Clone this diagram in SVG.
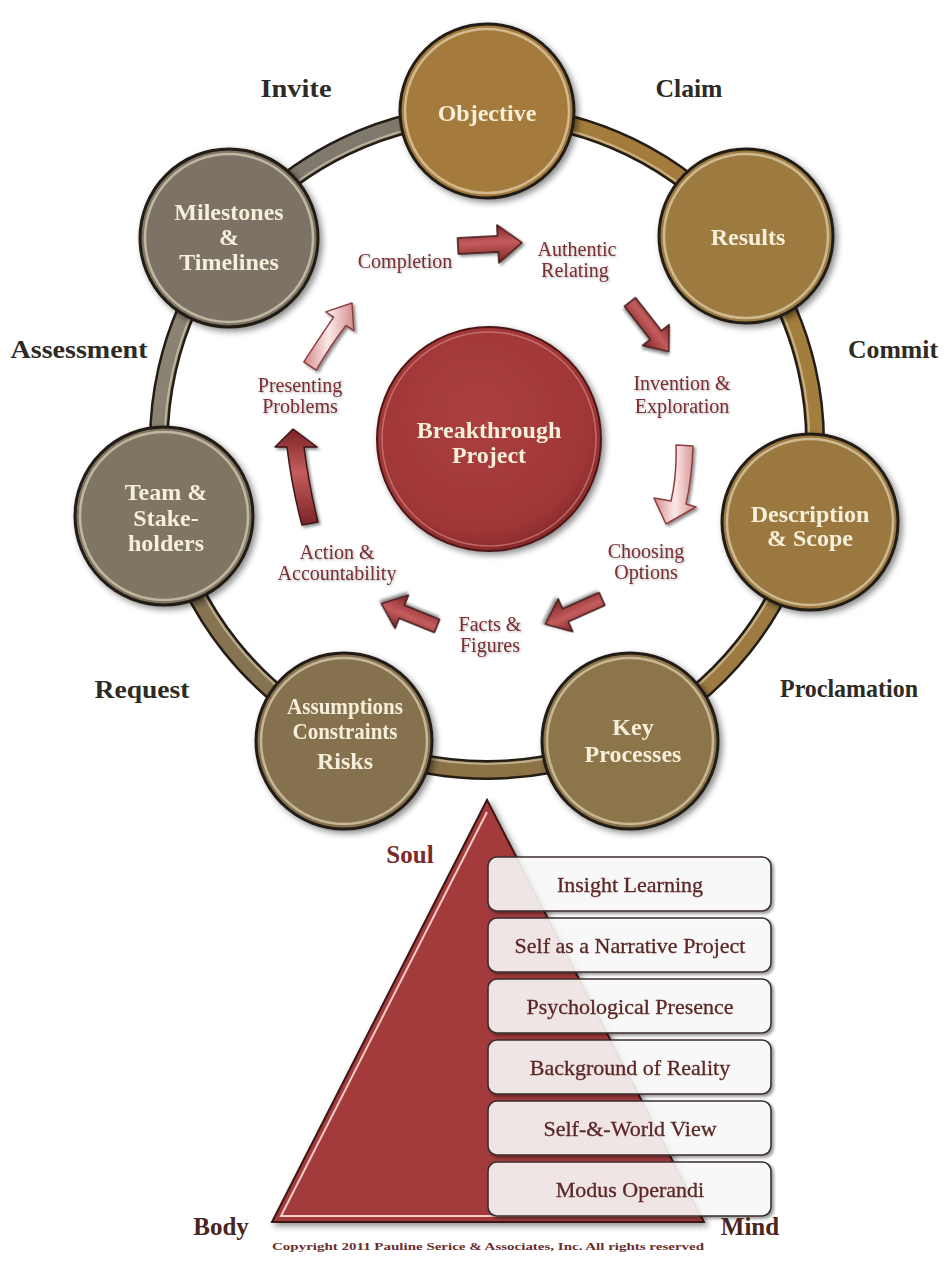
<svg xmlns="http://www.w3.org/2000/svg" width="948" height="1261" viewBox="0 0 948 1261">
  <defs>
    <style>
      .serif { font-family: "Liberation Serif", "DejaVu Serif", serif; }
      .outer { font-family: "Liberation Serif", "DejaVu Serif", serif; font-weight: bold; font-size: 26px; fill: #2e2b24; text-anchor: middle; }
      .node-text { font-family: "Liberation Serif", "DejaVu Serif", serif; font-weight: bold; font-size: 24px; fill: #f6efd9; text-anchor: middle; }
      .cycle-text { font-family: "Liberation Serif", "DejaVu Serif", serif; font-size: 20px; fill: #7b2d30; text-anchor: middle; filter: url(#textShadow); }
      .layer-text { font-family: "Liberation Serif", "DejaVu Serif", serif; font-size: 22px; fill: #5c2826; stroke: #5c2826; stroke-width: 0.3; text-anchor: middle; }
      .corner-text { font-family: "Liberation Serif", "DejaVu Serif", serif; font-weight: bold; font-size: 25px; text-anchor: middle; }
      .node-ring { fill: none; stroke: #efe4c6; stroke-width: 2.5; opacity: 0.6; }
      .node-edge { stroke: #221b13; stroke-width: 3; }
      .band-outline { fill: none; stroke: #241d15; stroke-width: 20; }
      .band { fill: none; stroke-width: 15; }
      .band-shine { fill: none; stroke: #e9dcc0; stroke-width: 2; opacity: 0.55; }
      .arrow-red { fill: url(#redArrow); stroke: #3b1616; stroke-width: 1.5; stroke-linejoin: round; filter: url(#arrowShadow); }
      .arrow-light { fill: url(#lightArrow); stroke: #8f3d40; stroke-width: 1.5; stroke-linejoin: round; filter: url(#arrowShadow); }
      .layer-box { fill: #ffffff; fill-opacity: 0.84; stroke: #3a2f2f; stroke-width: 1.6; }
    </style>
    <filter id="nodeShadow" x="-20%" y="-20%" width="140%" height="140%">
      <feDropShadow dx="3" dy="3" stdDeviation="3" flood-color="#000" flood-opacity="0.45"/>
    </filter>
    <filter id="arrowShadow" x="-30%" y="-30%" width="160%" height="160%">
      <feDropShadow dx="2" dy="2" stdDeviation="1.5" flood-color="#000" flood-opacity="0.45"/>
    </filter>
    <filter id="textShadow" x="-10%" y="-20%" width="120%" height="150%">
      <feDropShadow dx="1" dy="1" stdDeviation="0.8" flood-color="#555" flood-opacity="0.45"/>
    </filter>
    <linearGradient id="redArrow" x1="0" y1="0" x2="0" y2="1">
      <stop offset="0" stop-color="#7c2326"/>
      <stop offset="0.45" stop-color="#c45c5d"/>
      <stop offset="1" stop-color="#7c2326"/>
    </linearGradient>
    <linearGradient id="lightArrow" x1="0" y1="0" x2="1" y2="0">
      <stop offset="0" stop-color="#d48b8d"/>
      <stop offset="0.5" stop-color="#fbe9e7"/>
      <stop offset="1" stop-color="#d48b8d"/>
    </linearGradient>
    <radialGradient id="redCore" cx="0.45" cy="0.4" r="0.6">
      <stop offset="0" stop-color="#aa3f40"/>
      <stop offset="0.85" stop-color="#a03637"/>
      <stop offset="1" stop-color="#8a2b2c"/>
    </radialGradient>
  </defs>

  <rect width="948" height="1261" fill="#ffffff"/>

  <!-- connecting ring between the phase nodes -->
  <g id="connectors">
    <path class="band-outline" d="M487,114 A328,328 0 0 1 743.4,237.5 A328,328 0 0 1 806.8,515 A328,328 0 0 1 629.3,737.5 A328,328 0 0 1 344.7,737.5 A328,328 0 0 1 167.2,515 A328,328 0 0 1 230.6,237.5 A328,328 0 0 1 487,114"/>
    <path class="band" stroke="#a37c3b" d="M487,114 A328,328 0 0 1 743.4,237.5"/>
    <path class="band" stroke="#a27d3d" d="M743.4,237.5 A328,328 0 0 1 806.8,515"/>
    <path class="band" stroke="#9c7a42" d="M806.8,515 A328,328 0 0 1 629.3,737.5"/>
    <path class="band" stroke="#8b7346" d="M629.3,737.5 A328,328 0 0 1 344.7,737.5"/>
    <path class="band" stroke="#867351" d="M344.7,737.5 A328,328 0 0 1 167.2,515"/>
    <path class="band" stroke="#8a8373" d="M167.2,515 A328,328 0 0 1 230.6,237.5"/>
    <path class="band" stroke="#7e786d" d="M230.6,237.5 A328,328 0 0 1 487,114"/>
    <path class="band-shine" d="M487,120 A322,322 0 0 1 739.6,242 A322,322 0 0 1 801,514 A322,322 0 0 1 626.7,732 A322,322 0 0 1 347.3,732 A322,322 0 0 1 173,514 A322,322 0 0 1 234.4,242 A322,322 0 0 1 487,120"/>

    <!-- cycle arrows -->
    <path class="arrow-red" transform="translate(458,246) rotate(-3)" d="M0,-8 L40,-8 L40,-19 L64,0 L40,19 L40,8 L0,8 Z"/>
    <path class="arrow-red" transform="translate(630,302) rotate(52)" d="M0,-7 L42,-7 L42,-17 L63,0 L42,17 L42,7 L0,7 Z"/>
    <path class="arrow-light" d="M676,445 L693,446 Q692,478 686,504 L696,507 L666,524 L654,498 L671,501 Q677,476 676,445 Z"/>
    <path class="arrow-red" transform="translate(602,599) rotate(156)" d="M0,-7 L40,-7 L40,-18 L62,0 L40,18 L40,7 L0,7 Z"/>
    <path class="arrow-red" transform="translate(437,626) rotate(-158)" d="M0,-7 L38,-7 L38,-18 L60,0 L38,18 L38,7 L0,7 Z"/>
    <path class="arrow-red" d="M293,429 L317,447 L304,447 Q309,486 318,522 L302,525 Q292,488 287,447 L275,447 Z"/>
    <path class="arrow-light" d="M303.8,361.8 Q318,340 333.6,317.1 L325.7,311.9 L352,303 L353.9,330.7 L346,325.5 Q330,346 316.2,370.2 Z"/>
  </g>

  <!-- phase nodes on the ring -->
  <g id="node-objective" filter="url(#nodeShadow)">
    <circle class="node-edge" cx="487" cy="111" r="87" fill="#a57a3c"/>
    <circle class="node-ring" cx="487" cy="111" r="82"/>
    <text class="node-text" x="487" y="121">Objective</text>
  </g>
  <g id="node-results" filter="url(#nodeShadow)">
    <circle class="node-edge" cx="746" cy="236" r="87" fill="#9d7a3f"/>
    <circle class="node-ring" cx="746" cy="236" r="82"/>
    <text class="node-text" x="748" y="245">Results</text>
  </g>
  <g id="node-description" filter="url(#nodeShadow)">
    <circle class="node-edge" cx="810" cy="522" r="88" fill="#9a7841"/>
    <circle class="node-ring" cx="810" cy="522" r="83"/>
    <text class="node-text" x="810" y="522" font-size="20">Description</text>
    <text class="node-text" x="810" y="546" font-size="20">&amp; Scope</text>
  </g>
  <g id="node-key-processes" filter="url(#nodeShadow)">
    <circle class="node-edge" cx="630" cy="741" r="88" fill="#8d744b"/>
    <circle class="node-ring" cx="630" cy="741" r="83"/>
    <text class="node-text" x="633" y="735">Key</text>
    <text class="node-text" x="633" y="762">Processes</text>
  </g>
  <g id="node-assumptions" filter="url(#nodeShadow)">
    <circle class="node-edge" cx="344" cy="741" r="88" fill="#867150"/>
    <circle class="node-ring" cx="344" cy="741" r="83"/>
    <text class="node-text" x="345" y="714" font-size="18.5" textLength="116" lengthAdjust="spacingAndGlyphs">Assumptions</text>
    <text class="node-text" x="345" y="739" font-size="18.5" textLength="105" lengthAdjust="spacingAndGlyphs">Constraints</text>
    <text class="node-text" x="345" y="769" font-size="20">Risks</text>
  </g>
  <g id="node-team" filter="url(#nodeShadow)">
    <circle class="node-edge" cx="164" cy="516" r="89" fill="#7e7464"/>
    <circle class="node-ring" cx="164" cy="516" r="84"/>
    <text class="node-text" x="166" y="500">Team &amp;</text>
    <text class="node-text" x="166" y="526">Stake-</text>
    <text class="node-text" x="166" y="551">holders</text>
  </g>
  <g id="node-milestones" filter="url(#nodeShadow)">
    <circle class="node-edge" cx="229" cy="238" r="89" fill="#7b7366"/>
    <circle class="node-ring" cx="229" cy="238" r="84"/>
    <text class="node-text" x="229" y="220">Milestones</text>
    <text class="node-text" x="229" y="245">&amp;</text>
    <text class="node-text" x="229" y="270">Timelines</text>
  </g>

  <!-- core project -->
  <g id="node-breakthrough" filter="url(#nodeShadow)">
    <circle cx="489" cy="439" r="112" fill="url(#redCore)" stroke="#4e1818" stroke-width="2"/>
    <circle cx="489" cy="439" r="107" fill="none" stroke="#e8a3a0" stroke-width="1.5" opacity="0.5"/>
    <text class="node-text" x="489" y="438" fill="#f6ddd6">Breakthrough</text>
    <text class="node-text" x="489" y="463" fill="#f6ddd6">Project</text>
  </g>

  <!-- stage labels on the inner cycle -->
  <g id="cycle-labels">
    <text class="cycle-text" x="405" y="268">Completion</text>
    <text class="cycle-text" x="577" y="256">Authentic</text>
    <text class="cycle-text" x="575" y="277">Relating</text>
    <text class="cycle-text" x="682" y="390">Invention &amp;</text>
    <text class="cycle-text" x="682" y="413">Exploration</text>
    <text class="cycle-text" x="646" y="558">Choosing</text>
    <text class="cycle-text" x="646" y="579">Options</text>
    <text class="cycle-text" x="490" y="631">Facts &amp;</text>
    <text class="cycle-text" x="490" y="652" font-size="19">Figures</text>
    <text class="cycle-text" x="337" y="559" font-size="19">Action &amp;</text>
    <text class="cycle-text" x="337" y="580" font-size="19">Accountability</text>
    <text class="cycle-text" x="300" y="392">Presenting</text>
    <text class="cycle-text" x="300" y="413">Problems</text>
  </g>

  <!-- commitment labels around the ring -->
  <g id="ring-labels">
    <text class="outer" x="296" y="97" textLength="71" lengthAdjust="spacingAndGlyphs">Invite</text>
    <text class="outer" x="689" y="97" textLength="67" lengthAdjust="spacingAndGlyphs">Claim</text>
    <text class="outer" x="79" y="358" textLength="137" lengthAdjust="spacingAndGlyphs">Assessment</text>
    <text class="outer" x="893" y="358" textLength="90" lengthAdjust="spacingAndGlyphs">Commit</text>
    <text class="outer" x="142" y="698" textLength="95" lengthAdjust="spacingAndGlyphs">Request</text>
    <text class="outer" x="849" y="697" textLength="138" lengthAdjust="spacingAndGlyphs">Proclamation</text>
  </g>

  <!-- body / soul / mind pyramid -->
  <g id="pyramid">
    <polygon points="487,800 272,1222 704,1222" fill="#a33b3c" stroke="#3d1414" stroke-width="2" filter="url(#nodeShadow)"/>
    <polyline points="487,812 281,1216 698,1216" fill="none" stroke="#f4cbc5" stroke-width="2"/>
  </g>

  <g id="layer-insight" filter="url(#arrowShadow)">
    <rect class="layer-box" x="488" y="857" width="283" height="54" rx="9"/>
    <text class="layer-text" x="630" y="892">Insight Learning</text>
  </g>
  <g id="layer-narrative" filter="url(#arrowShadow)">
    <rect class="layer-box" x="488" y="918" width="283" height="54" rx="9"/>
    <text class="layer-text" x="630" y="953">Self as a Narrative Project</text>
  </g>
  <g id="layer-presence" filter="url(#arrowShadow)">
    <rect class="layer-box" x="488" y="979" width="283" height="54" rx="9"/>
    <text class="layer-text" x="630" y="1014">Psychological Presence</text>
  </g>
  <g id="layer-background" filter="url(#arrowShadow)">
    <rect class="layer-box" x="488" y="1040" width="283" height="54" rx="9"/>
    <text class="layer-text" x="630" y="1075">Background of Reality</text>
  </g>
  <g id="layer-worldview" filter="url(#arrowShadow)">
    <rect class="layer-box" x="488" y="1101" width="283" height="54" rx="9"/>
    <text class="layer-text" x="630" y="1136">Self-&amp;-World View</text>
  </g>
  <g id="layer-modus" filter="url(#arrowShadow)">
    <rect class="layer-box" x="488" y="1162" width="283" height="54" rx="9"/>
    <text class="layer-text" x="630" y="1197">Modus Operandi</text>
  </g>

  <g id="pyramid-labels">
    <text class="corner-text" x="410" y="863" fill="#7a2a2a" font-size="22">Soul</text>
    <text class="corner-text" x="221" y="1235" fill="#4a2420">Body</text>
    <text class="corner-text" x="750" y="1235" fill="#4a2420">Mind</text>
    <text class="serif" x="488" y="1250" font-size="10.5" font-weight="bold" fill="#6a2e2c" text-anchor="middle" textLength="432" lengthAdjust="spacingAndGlyphs">Copyright 2011 Pauline Serice &amp; Associates, Inc. All rights reserved</text>
  </g>
</svg>
